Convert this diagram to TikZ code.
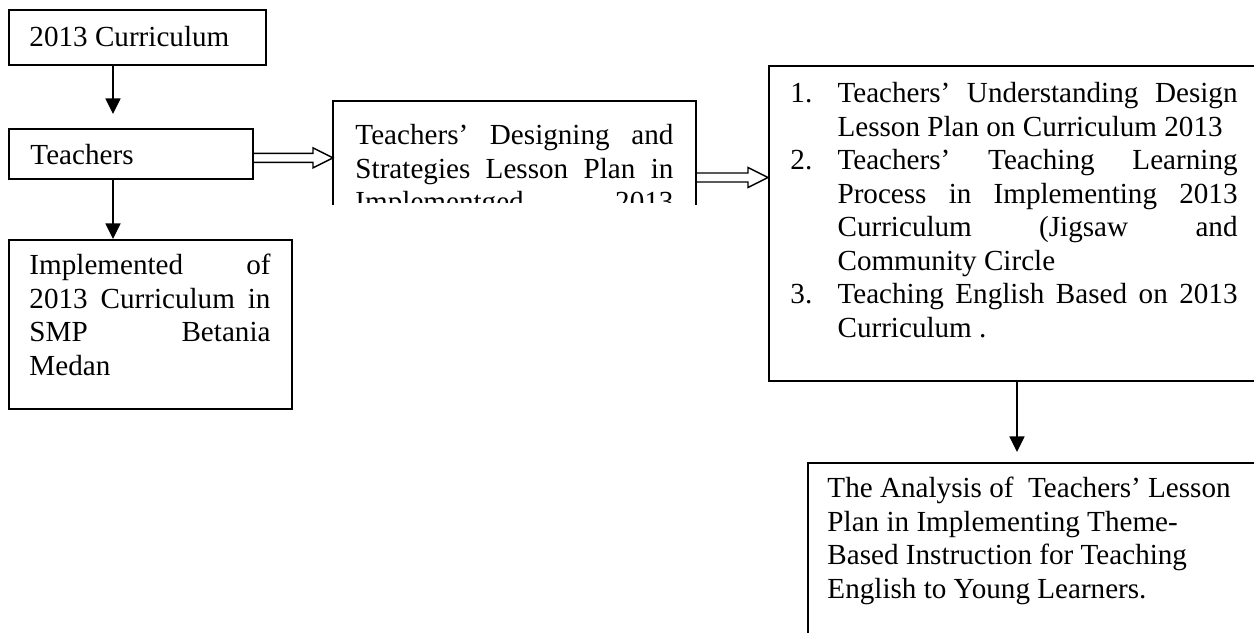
\documentclass[tikz,border=0pt]{standalone}
\usepackage{fontspec}
\setmainfont{Liberation Serif}
\usetikzlibrary{arrows.meta,calc}
\newcommand{\pxu}{0.412pt}
\newcommand{\blockarrow}[2]{%
  \draw[blockarr] ($(#1)+(0,-4.5)$) -- ($(#2)+(-20,-4.5)$) -- ($(#2)+(-20,-10)$) -- (#2)
    -- ($(#2)+(-20,10)$) -- ($(#2)+(-20,4.5)$) -- ($(#1)+(0,4.5)$);}
\begin{document}
\begin{tikzpicture}[x=0.412pt,y=-0.412pt,
  box/.style={draw, line width=0.75pt, inner sep=0pt, anchor=north west},
  frame/.style={inner sep=0pt, anchor=north west},
  boxline/.style={line width=0.75pt},
  txt/.style={inner sep=0pt, anchor=base west, font=\fontsize{12pt}{13.8pt}\selectfont},
  conn/.style={line width=0.6pt, -{Triangle[width=6.2pt,length=6.4pt]}},
  blockarr/.style={line width=0.6pt, line join=miter}]
\useasboundingbox (0,0) rectangle (1254,633);
\clip (0,0) rectangle (1254,633);

% boxes
\node[box, minimum width=257*\pxu, minimum height=55*\pxu] (cur) at (8,9) {};
\node[box, minimum width=244*\pxu, minimum height=50*\pxu] (teach) at (8,128) {};
\node[box, minimum width=283*\pxu, minimum height=169*\pxu] (impl) at (8,239) {};
\node[frame, minimum width=362*\pxu, minimum height=103*\pxu] (mid) at (333,101) {};
\draw[boxline] (mid.south west) -- (mid.north west) -- (mid.north east) -- (mid.south east);
\node[box, minimum width=520*\pxu, minimum height=315*\pxu] (list) at (768,65) {};
\node[box, minimum width=480*\pxu, minimum height=200*\pxu] (ana) at (807,462) {};

% texts
\node[txt] (curT) at (29,47) {2013 Curriculum};
\node[txt] (teachT) at (30,165) {Teachers};
\node[txt] (implT) at (29,275) {\parbox[t]{99.3pt}{\tolerance=10000\hyphenpenalty=10000
  Implemented of\linebreak 2013 Curriculum in\linebreak SMP Betania\linebreak Medan}};
\begin{scope}
  \clip (333,95) rectangle (700,203);
  \node[txt] (midT) at (355,145) {\parbox[t]{131pt}{\tolerance=10000\hyphenpenalty=10000
    Teachers’ Designing and\linebreak Strategies Lesson Plan in\linebreak Implementged\hfill 2013}};
\end{scope}
\node[txt] (listT) at (790,103) {\parbox[t]{184.2pt}{\tolerance=10000\hyphenpenalty=10000
  \hangindent=19.4pt\hangafter=1\makebox[19.4pt][l]{1.}Teachers’ Understanding Design\linebreak Lesson Plan on Curriculum 2013\par
  \hangindent=19.4pt\hangafter=1\makebox[19.4pt][l]{2.}Teachers’ Teaching Learning\linebreak Process in Implementing 2013\linebreak Curriculum (Jigsaw and\linebreak Community Circle\par
  \hangindent=19.4pt\hangafter=1\makebox[19.4pt][l]{3.}Teaching English Based on 2013\linebreak Curriculum .}};
\node[txt] (anaT) at (827,498) {\parbox[t]{200pt}{\raggedright
  The Analysis of\ \ Teachers’ Lesson\\ Plan in Implementing Theme-\\ Based Instruction for Teaching\\ English to Young Learners.}};

% connectors
\draw[conn] ($(cur.south west)+(105,0)$) -- ($(teach.north west)+(105,-14)$);
\draw[conn] ($(teach.south west)+(105,0)$) -- ($(impl.north west)+(105,0)$);
\draw[conn] ($(list.south west)+(249,0)$) -- ($(ana.north west)+(210,-10)$);

\coordinate (a1s) at ($(teach.east)+(0,4)$);
\coordinate (a1e) at (mid.west |- a1s);
\blockarrow{a1s}{a1e}
\coordinate (a2s) at ($(mid.east)+(0,24.5)$);
\coordinate (a2e) at (list.west |- a2s);
\blockarrow{a2s}{a2e}
\end{tikzpicture}
\end{document}
